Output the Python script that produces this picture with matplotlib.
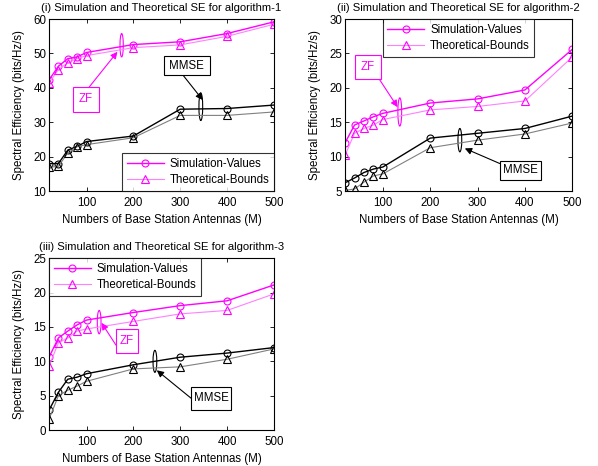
import matplotlib
matplotlib.use('Agg')
import matplotlib.pyplot as plt
from matplotlib.patches import Ellipse, Rectangle

plt.rcParams['font.family'] = ['Liberation Sans', 'DejaVu Sans']
plt.rcParams['font.size'] = 8.3

antennas = [20, 40, 60, 80, 100, 200, 300, 400, 500]

# algorithm-1
alg1_zf_sim = [42.3, 46.3, 48.5, 49.0, 50.3, 52.6, 53.4, 55.8, 59.2]
alg1_zf_theo = [41.5, 45.3, 47.3, 48.5, 49.4, 51.7, 52.5, 55.0, 58.5]
alg1_mmse_sim = [18.0, 18.0, 21.9, 23.0, 24.4, 26.0, 33.8, 34.0, 35.0]
alg1_mmse_theo = [16.9, 17.2, 21.1, 22.9, 23.5, 25.5, 32.0, 32.0, 33.0]

# algorithm-2
alg2_zf_sim = [12.0, 14.6, 15.2, 15.8, 16.3, 17.8, 18.4, 19.7, 25.6]
alg2_zf_theo = [10.2, 13.4, 14.1, 14.6, 15.4, 16.8, 17.3, 18.1, 24.5]
alg2_mmse_sim = [6.2, 6.9, 7.7, 8.2, 8.5, 12.7, 13.4, 14.1, 15.9]
alg2_mmse_theo = [5.1, 5.3, 6.3, 7.2, 7.5, 11.3, 12.4, 13.3, 14.9]

# algorithm-3
alg3_zf_sim = [10.6, 13.4, 14.4, 15.3, 16.0, 17.1, 18.1, 18.8, 21.1]
alg3_zf_theo = [9.3, 12.7, 13.4, 14.4, 14.7, 15.8, 16.9, 17.4, 19.8]
alg3_mmse_sim = [2.9, 5.5, 7.4, 7.7, 8.2, 9.5, 10.6, 11.2, 12.0]
alg3_mmse_theo = [1.6, 5.0, 5.8, 6.4, 7.1, 8.9, 9.2, 10.3, 11.8]

titles = ['(i) Simulation and Theoretical SE for algorithm-1',
          '(ii) Simulation and Theoretical SE for algorithm-2',
          '(iii) Simulation and Theoretical SE for algorithm-3']
xlabel = 'Numbers of Base Station Antennas (M)'
ylabel = 'Spectral Efficiency (bits/Hz/s)'
legend_labels = ['Simulation-Values', 'Theoretical-Bounds']

MAG = '#ff00ff'
MAG_LIGHT = '#ff80ff'
GRAY = '#808080'

fig = plt.figure(figsize=(5.98, 4.66), dpi=100)
positions = [[0.082, 0.590, 0.376, 0.369],
             [0.577, 0.590, 0.380, 0.369],
             [0.082, 0.077, 0.376, 0.369]]

datasets = [
    (alg1_zf_sim, alg1_zf_theo, alg1_mmse_sim, alg1_mmse_theo),
    (alg2_zf_sim, alg2_zf_theo, alg2_mmse_sim, alg2_mmse_theo),
    (alg3_zf_sim, alg3_zf_theo, alg3_mmse_sim, alg3_mmse_theo),
]
ylims = [(10, 60), (5, 30), (0, 25)]
yticks = [range(10, 61, 10), range(5, 31, 5), range(0, 26, 5)]
legend_locs = ['lower right', 'upper center', 'upper left']

# annotation layout per subplot:
# (ellipse center, ellipse w/h, box center, box w/h, arrow tail, arrow head)
zf_notes = [((175, 52.4), (7, 6.8), (99, 36.7), (55, 7.3), (106, 40.3), (166, 50.5)),
            ((135.6, 16.5), (8, 4.1), (68.5, 23.05), (55, 3.5), (93, 21.2), (131, 17.2)),
            ((127, 15.7), (8, 3.4), (186, 12.95), (47, 3.5), (163, 12.35), (132, 15.6))]
mmse_notes = [((344, 34.5), (8, 8.0), (314, 46.4), (98, 5.5), (306, 43.7), (348, 36.5)),
              ((262.5, 12.4), (8, 3.4), (391, 8.0), (86, 2.8), (347, 9.0), (273, 11.2)),
              ((246, 10.0), (8, 3.2), (366, 4.6), (87, 3.35), (323, 4.65), (250, 8.7))]

for i in range(3):
    ax = fig.add_axes(positions[i])
    zs, zt, ms, mt = datasets[i]
    l1, = ax.plot(antennas, zs, '-o', color=MAG, lw=1.0, ms=5,
                  mfc='none', mec=MAG, mew=0.8)
    l2, = ax.plot(antennas, zt, '-^', color=MAG_LIGHT, lw=0.8, ms=5.5,
                  mfc='none', mec=MAG, mew=0.8)
    ax.plot(antennas, ms, '-o', color='black', lw=1.0, ms=5,
            mfc='none', mec='black', mew=0.8)
    ax.plot(antennas, mt, '-^', color=GRAY, lw=0.8, ms=5.5,
            mfc='none', mec='black', mew=0.8)

    ax.set_xlim(20, 500)
    ax.set_ylim(*ylims[i])
    ax.set_xticks([100, 200, 300, 400, 500])
    ax.set_yticks(list(yticks[i]))
    ax.tick_params(direction='in', top=True, right=True, length=3,
                   width=0.6, labelsize=8.3)
    ax.tick_params(axis='x', pad=4)
    ax.tick_params(axis='y', pad=2)
    for s in ax.spines.values():
        s.set_linewidth(0.8)
    ax.set_title(titles[i], fontsize=8.1, pad=6)
    ax.set_xlabel(xlabel, labelpad=4)
    ax.set_ylabel(ylabel, labelpad=6)

    leg = ax.legend([l1, l2], legend_labels, loc=legend_locs[i],
                    fontsize=8.3, fancybox=False, borderaxespad=0,
                    handlelength=3.2, handletextpad=0.5,
                    borderpad=0.4, labelspacing=0.4)
    leg.get_frame().set_edgecolor('black')
    leg.get_frame().set_linewidth(0.8)

    for note, col, label in [(zf_notes[i], MAG, 'ZF'), (mmse_notes[i], 'black', 'MMSE')]:
        ec, esz, bc, bsz, tail, head = note
        ax.add_patch(Ellipse(ec, esz[0], esz[1], fill=False, ec=col, lw=0.8))
        ax.annotate('', xy=head, xytext=tail,
                    arrowprops=dict(arrowstyle='-|>', color=col, lw=0.8,
                                    mutation_scale=10, shrinkA=0, shrinkB=0))
        ax.add_patch(Rectangle((bc[0] - bsz[0] / 2, bc[1] - bsz[1] / 2),
                               bsz[0], bsz[1], fc='white', ec=col, lw=0.8,
                               zorder=4))
        ax.text(bc[0], bc[1], label, color=col, ha='center', va='center',
                fontsize=8.3, zorder=5)

fig.savefig('out.png', dpi=100)
